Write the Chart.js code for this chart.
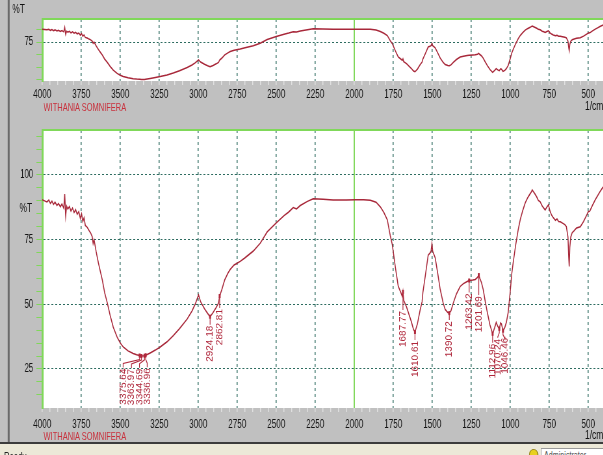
<!DOCTYPE html>
<html>
<head>
<meta charset="utf-8">
<title>WITHANIA SOMNIFERA – FTIR</title>
<script src="https://cdn.jsdelivr.net/npm/chart.js@4.4.1/dist/chart.umd.min.js"></script>
<style>
  html, body { margin: 0; padding: 0; width: 603px; height: 455px; overflow: hidden; background: #c0c0c0; }
  /* the instrument window renders everything horizontally condensed */
  #win { position: absolute; left: 0; top: 0; width: 928px; height: 455px; transform: scaleX(0.65); transform-origin: 0 0;
         font-family: 'Liberation Sans', Arial, sans-serif; }
  canvas { position: absolute; left: 0; }
  #topChart { top: 0; }
  #botChart { top: 113px; }
  .edge { position: absolute; left: 12px; top: 0; width: 3px; height: 443px; background: #6a6a6a; }
  .t { position: absolute; white-space: nowrap; line-height: 1; }
  .unit { color: #111; font-size: 13px; }
  .name { color: #c8303c; font-size: 11.5px; }
  .sep { position: absolute; left: 0; top: 442px; width: 928px; height: 2px; background: #3c3c3c; }
  .status { position: absolute; left: 0; top: 444px; width: 928px; height: 11px; background: #ece9d8; overflow: hidden; }
  .status .ready { position: absolute; left: 6px; top: 6px; font-size: 12px; color: #222; }
  .status .icon { position: absolute; left: 814px; top: 5px; width: 12px; height: 10px; border-radius: 6px; background: #e8d020; border: 1px solid #8a7a10; }
  .status .box { position: absolute; left: 832px; top: 4px; width: 96px; height: 12px; background: #fff; border: 1px solid #9a9a9a;
                 font-size: 11px; color: #555; padding-left: 4px; }
</style>
</head>
<body>
<div id="win">
  <div class="edge"></div>
  <canvas id="topChart" width="928" height="113"></canvas>
  <canvas id="botChart" width="928" height="330"></canvas>

  <div class="t unit" style="left:19px; top:2px;">%T</div>
  <div class="t name" style="left:67px; top:102px;">WITHANIA SOMNIFERA</div>
  <div class="t unit" style="left:900px; top:99px;">1/cm</div>

  <div class="t unit" style="left:30px; top:201px;">%T</div>
  <div class="t name" style="left:67px; top:431px;">WITHANIA SOMNIFERA</div>
  <div class="t unit" style="left:900px; top:428px;">1/cm</div>

  <div class="sep"></div>
  <div class="status">
    <div class="ready">Ready</div>
    <div class="icon"></div>
    <div class="box">Administrator</div>
  </div>
</div>

<script>
// ---- spectrum data (wavenumber in 1/cm, transmittance in %T) ----
const WAVENUMBERS = [
  4000, 3985, 3970, 3958, 3948, 3938, 3928, 3918, 3906, 3896,
  3884, 3874, 3862, 3856, 3850, 3844, 3836, 3826, 3816, 3806,
  3796, 3786, 3776, 3766, 3756, 3748, 3740, 3732, 3724, 3712,
  3700, 3690, 3680, 3674, 3668, 3655, 3640, 3625, 3615, 3600,
  3583, 3565, 3545, 3520, 3500, 3481, 3450, 3417, 3395, 3375.64,
  3363.97, 3344.69, 3336.96, 3308, 3275, 3244, 3200, 3160, 3120, 3071,
  3040, 3020, 2998, 2985, 2960, 2940, 2924.18, 2905, 2885, 2870,
  2862.81, 2850, 2830, 2810, 2795, 2770, 2731, 2700, 2647, 2603,
  2558, 2500, 2450, 2420, 2391, 2370, 2346, 2300, 2263, 2200,
  2135, 2050, 1994, 1940, 1897, 1860, 1833, 1810, 1788, 1769,
  1756, 1737, 1718, 1700, 1692, 1687.77, 1683, 1665, 1654, 1635,
  1620, 1610.61, 1595, 1577, 1565, 1560, 1545, 1526, 1515, 1508,
  1502, 1497, 1481, 1465, 1449, 1430, 1417, 1400, 1390.72, 1380,
  1365, 1345, 1321, 1300, 1276, 1263.42, 1240, 1224, 1210, 1201.69,
  1195, 1185, 1173, 1160, 1147, 1130, 1112.96, 1100, 1090, 1080,
  1070.24, 1062, 1056, 1046.46, 1035, 1025, 1013, 1000, 990, 981,
  965, 949, 935, 920, 904, 890, 875, 865, 859, 850,
  840, 830, 820, 808, 795, 785, 776, 765, 755, 745,
  735, 724, 710, 700, 690, 679, 665, 650, 640, 630,
  625, 622, 618, 612, 603, 590, 575, 551, 530, 510,
  500, 490, 475, 455, 440, 425, 404
];
const TRANSMITTANCE = [
  90.4, 90.0, 89.6, 90.3, 89.0, 89.9, 88.6, 89.5, 88.2, 89.0,
  87.7, 88.8, 87.2, 92.6, 84.2, 88.0, 86.8, 87.8, 86.0, 87.2,
  85.5, 86.6, 84.8, 85.8, 83.2, 85.0, 82.0, 83.5, 80.5, 79.8,
  78.5, 77.6, 76.2, 73.5, 75.0, 70.5, 66.0, 62.0, 59.4, 54.5,
  50.5, 45.8, 41.2, 37.3, 35.0, 33.5, 32.0, 31.0, 30.5, 30.2,
  30.0, 30.1, 30.3, 31.2, 32.3, 33.5, 35.5, 37.9, 40.6, 44.3,
  47.4, 50.0, 53.6, 51.0, 48.3, 46.5, 45.2, 46.8, 48.8, 50.5,
  53.2, 55.5, 59.5, 62.0, 63.5, 65.2, 66.6, 68.0, 70.6, 73.6,
  78.0, 81.5, 84.3, 85.7, 87.4, 86.9, 88.2, 89.8, 90.8, 90.6,
  90.3, 90.3, 90.4, 90.4, 90.2, 89.5, 87.7, 85.5, 82.7, 76.5,
  73.0, 64.6, 57.0, 54.3, 53.0, 54.8, 51.5, 49.0, 47.0, 43.5,
  40.2, 39.3, 42.5, 48.0, 51.0, 54.5, 60.8, 69.0, 69.8, 70.5,
  73.5, 70.5, 68.0, 62.0, 55.8, 50.5, 48.0, 46.8, 46.6, 47.5,
  50.5, 54.0, 56.9, 58.0, 58.8, 59.2, 59.4, 59.6, 60.4, 61.3,
  60.0, 58.5, 55.6, 51.0, 46.9, 42.0, 38.6, 41.0, 43.0, 41.5,
  40.5, 42.8, 42.4, 39.8, 41.0, 43.0, 46.9, 55.0, 62.0, 66.2,
  73.0, 78.8, 83.0, 86.2, 89.2, 91.0, 92.5, 93.4, 94.2, 93.4,
  92.5, 91.5, 90.2, 89.6, 88.0, 87.2, 86.5, 87.6, 88.5, 86.0,
  84.5, 83.5, 82.5, 83.0, 82.0, 81.9, 81.4, 80.8, 80.0, 76.0,
  68.0, 64.6, 72.0, 76.0, 77.7, 78.5, 79.5, 80.0, 82.0, 84.5,
  85.8, 86.0, 88.0, 90.4, 92.0, 93.5, 95.4
];
// labelled x ticks (1/cm)
const X_TICK_LABELS = [4000, 3750, 3500, 3250, 3000, 2750, 2500, 2250, 2000, 1750, 1500, 1250, 1000, 750, 500];
// region split of the wavenumber axis
const SPLIT_WAVENUMBER = 2000;
// picked peaks (1/cm)
const PEAKS = [3375.64, 3363.97, 3344.69, 3336.96, 2924.18, 2862.81, 1687.77, 1610.61,
               1390.72, 1263.42, 1201.69, 1112.96, 1070.24, 1046.46];

// ---- styling ----
const SX = 0.65;                      // horizontal condensation of the window
const GRID = '#2d6c60';
const GREEN = '#80d85a';
const CURVE = '#a8283a';
const PEAK_INK = '#b0283c';
const FONT = "'Liberation Sans', Arial, sans-serif";
// label placement for each picked peak: [horizontal shift px, leader length px]
const PEAK_LAYOUT = [[-16.5, 12], [-10, 12], [-5, 12], [1.5, 12], [0, 8], [0, 12], [0, 18], [0, 8],
                     [0, 7], [0, 12], [0, 20], [0, 9], [-1.5, 9], [2, 6]];

const points = WAVENUMBERS.map((w, i) => ({ x: w, y: TRANSMITTANCE[i] }));

function stepsDown(from, to, step) {
  const out = [];
  for (let v = from; v >= to - 1e-9; v -= step) out.push(+v.toFixed(4));
  return out;
}

// white plot field, top border and the solid split line
const framePlugin = {
  id: 'frame',
  beforeDraw(chart) {
    const { ctx, chartArea: a } = chart;
    ctx.save();
    ctx.fillStyle = '#ffffff';
    ctx.fillRect(a.left, a.top, a.right - a.left, a.bottom - a.top);
    ctx.restore();
  },
  beforeDatasetsDraw(chart) {
    const { ctx, chartArea: a, scales: { x } } = chart;
    const xs = x.getPixelForValue(SPLIT_WAVENUMBER);
    ctx.save();
    ctx.strokeStyle = GREEN;
    ctx.lineWidth = 2;
    ctx.beginPath(); ctx.moveTo(xs, a.top); ctx.lineTo(xs, a.bottom); ctx.stroke();
    ctx.lineWidth = 2;
    ctx.beginPath(); ctx.moveTo(a.left - 1, a.top); ctx.lineTo(a.right, a.top); ctx.stroke();
    ctx.restore();
  }
};

// vertical peak annotations with leader lines
const peakPlugin = {
  id: 'peakLabels',
  afterDatasetsDraw(chart, args, opts) {
    if (!opts.peaks) return;
    const { ctx, scales: { x, y } } = chart;
    ctx.save();
    ctx.strokeStyle = PEAK_INK;
    ctx.fillStyle = PEAK_INK;
    ctx.lineWidth = 1.2;
    ctx.font = '10px ' + FONT;
    opts.peaks.forEach((w, i) => {
      const t = TRANSMITTANCE[WAVENUMBERS.indexOf(w)];
      const px = x.getPixelForValue(w);
      const py = y.getPixelForValue(t);
      const [dx, lead] = opts.layout[i];
      const lx = px + dx / SX;
      const top = py + lead;
      ctx.fillRect(px - 1.5, py - 2, 3, 4);
      ctx.beginPath();
      ctx.moveTo(px, py);
      if (dx) { ctx.lineTo(px, py + 4); ctx.lineTo(lx, py + 8); }
      ctx.lineTo(lx, top);
      ctx.stroke();
      ctx.save();
      ctx.translate(lx, top + 1);
      ctx.scale(1 / SX, 1);
      ctx.rotate(-Math.PI / 2);
      ctx.textAlign = 'right';
      ctx.textBaseline = 'middle';
      ctx.fillText(w.toFixed(2), 0, 0);
      ctx.restore();
    });
    ctx.restore();
  }
};

function buildChart(id, cfg) {
  return new Chart(document.getElementById(id), {
    type: 'line',
    data: {
      datasets: [{
        data: points,
        borderColor: CURVE,
        borderWidth: 1.5,
        pointRadius: 0,
        tension: 0,
        fill: false
      }]
    },
    options: {
      responsive: false,
      animation: false,
      devicePixelRatio: 1,
      parsing: false,
      events: [],
      layout: { padding: { top: cfg.top, left: 0, right: 0, bottom: 0 } },
      plugins: {
        legend: { display: false },
        tooltip: { enabled: false },
        peakLabels: { peaks: cfg.peaks, layout: PEAK_LAYOUT }
      },
      scales: {
        x: {
          type: 'linear',
          reverse: true,
          min: 404,
          max: 4000,
          afterBuildTicks: s => { s.ticks = stepsDown(4000, 450, 50).map(v => ({ value: v })); },
          afterFit: s => { s.height = cfg.xAxisHeight; },
          ticks: {
            autoSkip: false, maxRotation: 0, minRotation: 0,
            padding: cfg.xPad, color: '#151515',
            font: { family: FONT, size: 12.5 },
            callback: v => (X_TICK_LABELS.includes(v) ? String(v) : '')
          },
          grid: {
            color: c => (c.tick && X_TICK_LABELS.includes(c.tick.value) && c.tick.value !== SPLIT_WAVENUMBER) ? GRID : 'rgba(0,0,0,0)',
            lineWidth: 1.5,
            tickColor: '#e2e2e2',
            tickLength: 4,
            tickWidth: 1.5
          },
          border: { display: false, dash: [3, 3] }
        },
        y: {
          type: 'linear',
          min: cfg.yMin,
          max: cfg.yMax,
          afterBuildTicks: s => { s.ticks = cfg.yTicks.map(v => ({ value: v })); },
          afterFit: s => { s.width = 65; },
          ticks: {
            autoSkip: false, padding: 5, color: '#151515',
            font: { family: FONT, size: 12 },
            callback: v => (cfg.yLabels.includes(v) ? String(v) : '')
          },
          grid: {
            color: c => (c.tick && cfg.yLabels.includes(c.tick.value)) ? GRID : 'rgba(0,0,0,0)',
            lineWidth: 1,
            tickColor: GREEN,
            tickLength: 9
          },
          border: { color: GREEN, width: 3, dash: [3, 3] }
        }
      }
    },
    plugins: [framePlugin, peakPlugin]
  });
}

// overview strip
buildChart('topChart', {
  top: 19, xAxisHeight: 32, xPad: 2,
  yMin: 28.2, yMax: 102.6,
  yTicks: [30, 45, 60, 75, 90],
  yLabels: [75],
  peaks: null
});

// main spectrum with peak picking
buildChart('botChart', {
  top: 17, xAxisHeight: 35, xPad: 5,
  yMin: 9.9, yMax: 117.4,
  yTicks: stepsDown(115, 15, 5),
  yLabels: [25, 50, 75, 100],
  peaks: PEAKS
});
</script>
</body>
</html>
